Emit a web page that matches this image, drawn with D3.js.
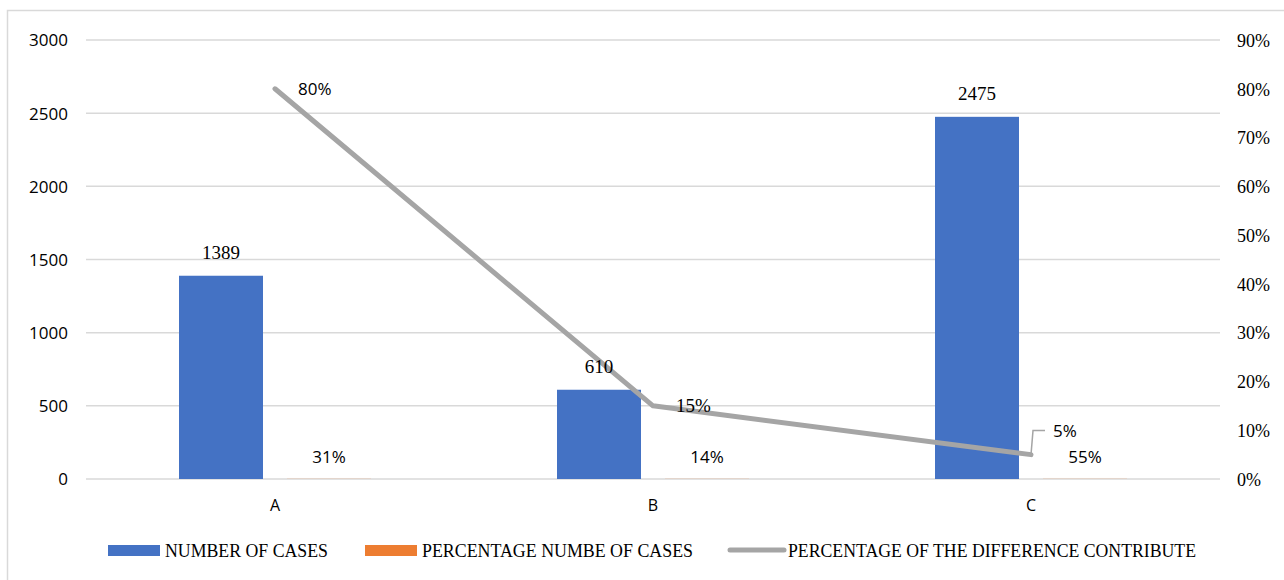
<!DOCTYPE html>
<html><head><meta charset="utf-8">
<script src="https://cdn.jsdelivr.net/npm/d3@7"></script>
<style>
html,body{margin:0;padding:0;background:#fff;overflow:hidden}
svg{display:block}
</style></head>
<body>
<svg id="chart" width="1284" height="580"></svg>
<script>
const categories = ["A", "B", "C"];
const numberOfCases = [1389, 610, 2475];
const percentageNumberOfCases = [0.31, 0.14, 0.55];
const percentageDifference = [0.80, 0.15, 0.05];
const leftTicks = [0, 500, 1000, 1500, 2000, 2500, 3000];
const rightTicks = [0, 0.1, 0.2, 0.3, 0.4, 0.5, 0.6, 0.7, 0.8, 0.9];
const seriesNames = ["NUMBER OF CASES", "PERCENTAGE NUMBE OF CASES", "PERCENTAGE OF THE DIFFERENCE CONTRIBUTE"];
const colors = ["#4472C4", "#ED7D31", "#A5A5A5"];

const serif = "'Liberation Serif','DejaVu Serif',serif";
const sans = "'Open Sans','Liberation Sans',sans-serif";

const svg = d3.select("#chart");
const M = {left: 86, right: 1220, top: 40, bottom: 479};

// chart border
svg.append("rect").attr("x", 7.5).attr("y", 10.5).attr("width", 1300).attr("height", 600)
  .attr("fill", "none").attr("stroke", "#D9D9D9").attr("stroke-width", 1.5);

const x = d3.scaleBand().domain(categories).range([M.left, M.right]).paddingInner(0).paddingOuter(0);
const yL = d3.scaleLinear().domain([0, 3000]).range([M.bottom, M.top]);
const yR = d3.scaleLinear().domain([0, 0.9]).range([M.bottom, M.top]);
const sub = d3.scaleOrdinal().domain([0, 1]).range([-54, 54]);
const barW = 84;

// gridlines
svg.append("g").selectAll("line").data(leftTicks).join("line")
  .attr("x1", M.left).attr("x2", M.right)
  .attr("y1", d => yL(d)).attr("y2", d => yL(d))
  .attr("stroke", "#D9D9D9").attr("stroke-width", 1.5);

// left axis
const axL = svg.append("g").attr("transform", `translate(${M.left - 18},0)`)
  .call(d3.axisLeft(yL).tickValues(leftTicks).tickSize(0).tickPadding(0).tickFormat(d3.format("d")));
axL.select(".domain").remove();
axL.selectAll("text").attr("font-family", sans).attr("font-size", 17).attr("fill", "#000").attr("dy", "0.35em");

// right axis
const axR = svg.append("g").attr("transform", `translate(${M.right + 17},0)`)
  .call(d3.axisRight(yR).tickValues(rightTicks).tickSize(0).tickPadding(0).tickFormat(d3.format(".0%")));
axR.select(".domain").remove();
axR.selectAll("text").attr("font-family", serif).attr("font-size", 18).attr("fill", "#000").attr("dy", "0.35em");

// bottom axis labels
const axB = svg.append("g").attr("transform", `translate(0,${M.bottom + 26})`)
  .call(d3.axisBottom(x).tickSize(0).tickPadding(0));
axB.select(".domain").remove();
axB.selectAll("text").attr("font-family", sans).attr("font-size", 16).attr("fill", "#000").attr("dy", "0.35em");

const cx = c => x(c) + x.bandwidth() / 2;

// blue bars
svg.append("g").selectAll("rect").data(numberOfCases).join("rect")
  .attr("x", (d, i) => cx(categories[i]) + sub(0) - barW / 2)
  .attr("y", d => yL(d)).attr("width", barW).attr("height", d => yL(0) - yL(d))
  .attr("fill", colors[0]);

// orange bars (plotted on the left axis: effectively invisible)
svg.append("g").selectAll("rect").data(percentageNumberOfCases).join("rect")
  .attr("x", (d, i) => cx(categories[i]) + sub(1) - barW / 2)
  .attr("y", d => yL(d) - 1).attr("width", barW).attr("height", d => yL(0) - yL(d) + 1)
  .attr("fill", colors[1]).attr("opacity", 0.12);

// line
const line = d3.line().x((d, i) => cx(categories[i])).y(d => yR(d));
svg.append("path").datum(percentageDifference)
  .attr("d", line).attr("fill", "none").attr("stroke", colors[2]).attr("stroke-width", 5)
  .attr("stroke-linecap", "round").attr("stroke-linejoin", "round");

// blue labels
svg.append("g").selectAll("text").data(numberOfCases).join("text")
  .attr("x", (d, i) => cx(categories[i]) + sub(0))
  .attr("y", d => yL(d) - 17)
  .attr("text-anchor", "middle").attr("font-family", serif).attr("font-size", 19).attr("fill", "#000")
  .text(d => d);

// orange labels
svg.append("g").selectAll("text").data(percentageNumberOfCases).join("text")
  .attr("x", (d, i) => cx(categories[i]) + sub(1))
  .attr("y", d => yL(d) - 16)
  .attr("text-anchor", "middle").attr("font-family", sans).attr("font-size", 17).attr("fill", "#000")
  .text(d => d3.format(".0%")(d));

// line labels
percentageDifference.forEach((d, i) => {
  const px = cx(categories[i]), py = yR(d);
  if (i === 2) {
    svg.append("polyline")
      .attr("points", `${px},${py} ${px + 2},${py - 24} ${px + 14},${py - 24}`)
      .attr("fill", "none").attr("stroke", "#A5A5A5").attr("stroke-width", 1.5);
    svg.append("text").attr("x", px + 22).attr("y", py - 24).attr("dy", "0.35em")
      .attr("font-family", sans).attr("font-size", 17).attr("fill", "#000")
      .text(d3.format(".0%")(d));
  } else {
    svg.append("text").attr("x", px + 23).attr("y", py).attr("dy", "0.35em")
      .attr("font-family", i === 0 ? sans : serif).attr("font-size", i === 0 ? 17 : 19).attr("fill", "#000")
      .text(d3.format(".0%")(d));
  }
});

// legend
const legend = [
  {name: seriesNames[0], color: colors[0], sx: 108, sw: 52, tx: 165, tw: 163, type: "rect"},
  {name: seriesNames[1], color: colors[1], sx: 365, sw: 52, tx: 422, tw: 271, type: "rect"},
  {name: seriesNames[2], color: colors[2], sx: 730, sw: 54, tx: 788, tw: 408, type: "line"}
];
const lg = svg.append("g");
legend.forEach(l => {
  if (l.type === "rect") {
    lg.append("rect").attr("x", l.sx).attr("y", 545).attr("width", l.sw).attr("height", 11).attr("fill", l.color);
  } else {
    lg.append("line").attr("x1", l.sx).attr("x2", l.sx + l.sw).attr("y1", 550).attr("y2", 550)
      .attr("stroke", l.color).attr("stroke-width", 5).attr("stroke-linecap", "round");
  }
  lg.append("text").attr("x", l.tx).attr("y", 557).attr("font-family", serif).attr("font-size", 19)
    .attr("fill", "#000").attr("textLength", l.tw).attr("lengthAdjust", "spacingAndGlyphs").text(l.name);
});
</script>
</body></html>
